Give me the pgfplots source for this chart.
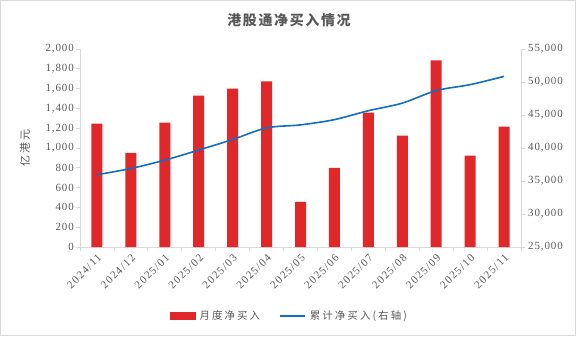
\documentclass[border=0pt]{standalone}
\usepackage{pgfplots}
\pgfplotsset{compat=1.18}
\usepackage{fontspec}
\setmainfont{Liberation Serif}
\newfontfamily\cjk{Noto Sans CJK SC}
\newfontfamily\cjkt[LetterSpace=12]{Noto Sans CJK SC}
\newfontfamily\cjkl[LetterSpace=20]{Noto Sans CJK SC}
\newfontfamily\numfont[LetterSpace=8]{Liberation Serif}
\newfontfamily\xfont[LetterSpace=12]{Liberation Serif}
\definecolor{barred}{HTML}{E0282A}
\definecolor{lineblue}{HTML}{0F6FC0}
\definecolor{axgray}{HTML}{D9D9D9}
\definecolor{txtgray}{HTML}{595959}
\begin{document}
\begin{tikzpicture}[x=1bp,y=1bp]
\path[use as bounding box] (0,0) rectangle (576,336);
\draw[axgray, line width=1bp] (0.5,0.5) rectangle (575.5,335.5);
\node[text=txtgray, font=\cjkt\bfseries\fontsize{14}{16}\selectfont] at (289,316) {港股通净买入情况};
\begin{axis}[
  at={(80bp,89bp)}, anchor=south west, scale only axis,
  width=441bp, height=198bp,
  xmin=-0.5, xmax=12.5, ymin=0, ymax=2000,
  ytick={0,200,...,2000},
  xtick={0,...,12},
  xticklabels={2024/11,2024/12,2025/01,2025/02,2025/03,2025/04,2025/05,2025/06,2025/07,2025/08,2025/09,2025/10,2025/11},
  minor xtick={-0.5,0.5,...,12.5},
  major tick length=4bp,
  minor tick length=4bp,
  every major x tick/.style={draw=none},
  axis x line*=bottom, axis y line*=left,
  axis line style={axgray, line width=0.8bp},
  tick align=outside,
  every tick/.style={axgray, line width=0.8bp},
  /pgf/number format/1000 sep={,},
  /pgf/number format/assume math mode=true,
  scaled y ticks=false,
  yticklabel style={text=txtgray, font=\numfont\fontsize{11}{13}\selectfont, inner sep=1bp, xshift=-1bp},
  xticklabel style={text=txtgray, font=\xfont\fontsize{11}{13}\selectfont, rotate=45, anchor=north east, inner sep=1.5pt},
  ylabel={\cjkl 亿港元},
  ylabel style={text=txtgray, font=\fontsize{11}{13}\selectfont, at={(axis description cs:-0.125,0.5)}, anchor=center},
  clip=false,
]
\addplot[ybar, bar width=11bp, fill=barred, draw=none] coordinates {
 (0,1245) (1,952) (2,1256) (3,1530) (4,1600) (5,1672) (6,456) (7,800) (8,1357) (9,1125) (10,1884) (11,922) (12,1216)
};
\end{axis}
\begin{axis}[
  at={(80bp,89bp)}, anchor=south west, scale only axis,
  width=441bp, height=198bp,
  xmin=-0.5, xmax=12.5, ymin=25000, ymax=55000,
  ytick={25000,30000,...,55000},
  axis x line=none, axis y line*=right,
  axis line style={axgray, line width=0.8bp},
  tick align=outside,
  major tick length=4bp,
  every tick/.style={axgray, line width=0.8bp},
  /pgf/number format/1000 sep={,},
  /pgf/number format/assume math mode=true,
  scaled y ticks=false,
  yticklabel style={text=txtgray, font=\numfont\fontsize{11}{13}\selectfont, inner sep=1bp, xshift=2bp},
  legend style={at={(axis description cs:0.475,-0.348)}, anchor=center, draw=none, fill=none,
     font=\cjkl\fontsize{10.5}{12}\selectfont, text=txtgray, column sep=2bp,
     /tikz/every even column/.append style={column sep=17bp},
     nodes={inner sep=2bp}},
  legend columns=2,
  legend cell align=left,
]
\addlegendimage{legend image code/.code={\fill[barred] (0bp,-3.5bp) rectangle (25bp,3.5bp);}}
\addlegendentry{月度净买入}
\addplot[lineblue, line width=1.6bp, smooth, mark=none,
  legend image code/.code={\draw[lineblue, line width=1.6bp] (0bp,0bp) -- (25bp,0bp);}] coordinates {
 (0,35950) (1,36900) (2,38160) (3,39690) (4,41290) (5,43050) (6,43500) (7,44300) (8,45650) (9,46800) (10,48700) (11,49600) (12,50850)
};
\addlegendentry{累计净买入(右轴)}
\end{axis}
\end{tikzpicture}
\end{document}
